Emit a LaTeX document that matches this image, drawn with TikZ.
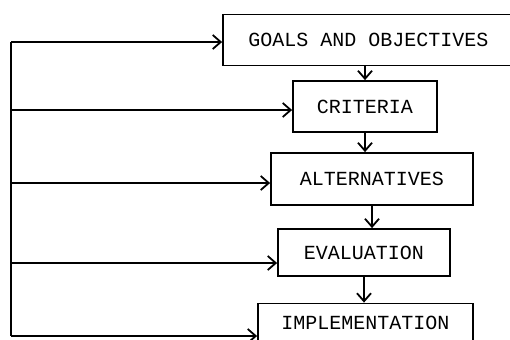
\documentclass[tikz,border=0pt]{standalone}
\usepackage{fontspec}
\setmonofont{Liberation Mono}
\usepackage{tikz}
\usetikzlibrary{arrows.meta, positioning}
\tikzstyle{box} = [rectangle, draw, line width=0.9pt, inner sep=0pt, font=\ttfamily\fontsize{10}{12}\selectfont]
\tikzstyle{line} = [draw, line width=0.9pt]
\tikzstyle{arrline} = [draw, line width=0.9pt, -{Straight Barb[length=4pt, width=7pt, line width=0.9pt]}]

\begin{document}
\begin{tikzpicture}[x=0.5pt, y=-0.5pt]
			\useasboundingbox (0,0) rectangle (510,339);
			\clip (0,0) rectangle (510,339);
			\node [box, minimum width=145.5, minimum height=25.5] (goals) at (368.5, 40) {GOALS AND OBJECTIVES};
			\node [box, minimum width=72, minimum height=25.5] (crit) at (365, 106.5) {CRITERIA};
			\node [box, minimum width=101, minimum height=26] (alt) at (372, 179) {ALTERNATIVES};
			\node [box, minimum width=86, minimum height=23.5] (eval) at (364, 252.5) {EVALUATION};
			\node [box, minimum width=107.5, minimum height=19.5] (impl) at (365.5, 323) {IMPLEMENTATION};
			
			\coordinate (l1) at (11, 42);
			\coordinate (l2) at (11, 110);
			\coordinate (l3) at (11, 183);
			\coordinate (l4) at (11, 263);
			\coordinate (l5) at (11, 336);
			
			\path [line] (l1) -- (l5);
			\path [arrline] (l1) -- (l1 -| goals.west);
			\path [arrline] (l2) -- (l2 -| crit.west);
			\path [arrline] (l3) -- (l3 -| alt.west);
			\path [arrline] (l4) -- (l4 -| eval.west);
			\path [arrline] (l5) -- (l5 -| impl.west);
			
			\path [arrline] (crit.north |- goals.south) -- (crit.north);
			\path [arrline] (crit.south) -- (crit.south |- alt.north);
			\path [arrline] (alt.south) -- (alt.south |- eval.north);
			\path [arrline] (eval.south) -- (eval.south |- impl.north);
		\end{tikzpicture}
\end{document}
